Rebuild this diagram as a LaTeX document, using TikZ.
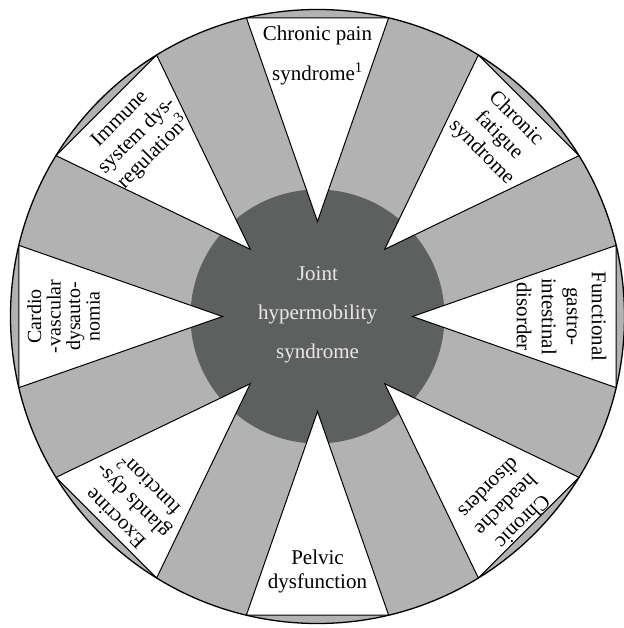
\documentclass[tikz,border=0pt]{standalone}
\usepackage{fontspec}
\setmainfont{Liberation Serif}
\definecolor{band}{HTML}{B2B2B2}
\definecolor{hub}{HTML}{5E605F}
\definecolor{hubtext}{HTML}{E8E8E8}
\newcommand{\wlab}[6]{%
  \fill[white] (#1:95) -- (#1+13.4:307) -- (#1-13.4:307) -- cycle;
  \begin{scope}
    \clip (#1:95) -- (#1+13.4:307) -- (#1-13.4:307) -- cycle;
    \node[lab,font=#5,rotate=#4] (#2) at (#1:#3) {#6};
  \end{scope}
  \draw[edge] (#1:95) -- (#1+13.4:307) -- (#1-13.4:307) -- cycle;}
\begin{document}
\begin{tikzpicture}[x=1pt,y=1pt,
  lab/.style={align=center,text=black,inner sep=0pt},
  edge/.style={draw=black,line width=1pt,line join=miter}]
\useasboundingbox (-317.5,-311.5) rectangle (305.5,316.5);
\fill[band] (0,0) circle (307);
\fill[hub] (0,0) circle (127);
\wlab{90}{ltop}{261}{0}{\fontsize{21}{40}\selectfont}{Chronic pain\\syndrome\textsuperscript{1}}
\wlab{45}{ltr}{256}{-45}{\fontsize{21}{24}\selectfont}{Chronic\\fatigue\\syndrome}
\wlab{0}{lr}{244}{-90}{\fontsize{21}{25}\selectfont}{Functional\\gastro-\\intestinal\\disorder}
\wlab{-45}{lbr}{267}{-135}{\fontsize{21}{24}\selectfont}{Chronic\\headache\\disorders}
\wlab{-90}{lb}{255}{0}{\fontsize{21}{24}\selectfont}{Pelvic\\dysfunction}
\wlab{-135}{lbl}{262}{135}{\fontsize{21}{24}\selectfont}{Exocrine\\glands dys-\\function\textsuperscript{2}}
\wlab{180}{ll}{254}{90}{\fontsize{20}{19.5}\selectfont}{Cardio\\-vascular\\dysauto-\\nomia}
\wlab{135}{ltl}{255}{45}{\fontsize{21}{24}\selectfont}{Immune\\system dys-\\regulation\textsuperscript{3}}
\node[align=center,text=hubtext,inner sep=0pt,font=\fontsize{21}{39}\selectfont] (hubt) at (0,2) {Joint\\hypermobility\\syndrome};
\draw[line width=1.3pt] (0,0) circle (307);
\end{tikzpicture}
\end{document}
